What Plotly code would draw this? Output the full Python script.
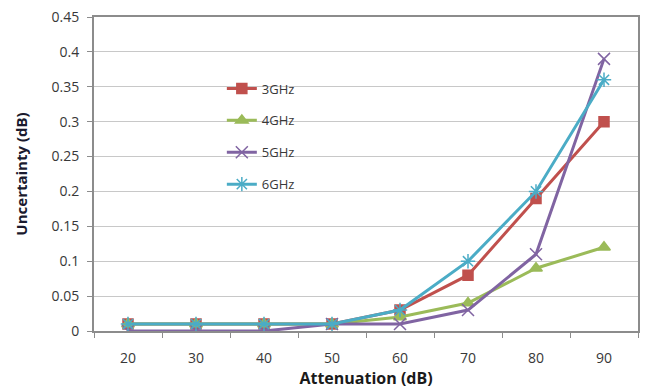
import plotly.graph_objects as go

attenuation = [20, 30, 40, 50, 60, 70, 80, 90]
ghz3 = [0.01, 0.01, 0.01, 0.01, 0.03, 0.08, 0.19, 0.30]
ghz4 = [0.01, 0.01, 0.01, 0.01, 0.02, 0.04, 0.09, 0.12]
ghz5 = [0.0, 0.0, 0.0, 0.01, 0.01, 0.03, 0.11, 0.39]
ghz6 = [0.01, 0.01, 0.01, 0.01, 0.03, 0.10, 0.20, 0.36]

series = [
    ("3GHz", ghz3, "#C0504D", "square", 10),
    ("4GHz", ghz4, "#9BBB59", "triangle-up", 11),
    ("5GHz", ghz5, "#8064A2", "x-thin-open", 12),
    ("6GHz", ghz6, "#4BACC6", "asterisk-open", 12),
]

fig = go.Figure()
for name, vals, color, sym, size in series:
    fig.add_trace(go.Scatter(
        x=attenuation, y=vals, name=name, mode="lines+markers",
        legendgroup=name,
        line=dict(color=color, width=3),
        marker=dict(symbol=sym, size=size, color=color,
                    line=dict(color=color, width=1.5)),
    ))

fig.update_layout(
    width=649, height=389,
    margin=dict(l=94, r=11, t=17, b=58),
    paper_bgcolor="white", plot_bgcolor="white",
    font=dict(family="Open Sans", size=14, color="#383838"),
    showlegend=True,
    legend=dict(x=0.235, y=0.82, xanchor="left", yanchor="top",
                bgcolor="rgba(0,0,0,0)", font=dict(size=13, color="#383838"),
                tracegroupgap=12),
    xaxis=dict(
        automargin=False,
        range=[15, 95], tickvals=attenuation, ticktext=[str(a) for a in attenuation],
        ticks="", showgrid=False, zeroline=False, ticklabelstandoff=13,
        showline=True, linecolor="#8c8c8c", linewidth=2, mirror=True,
        minor=dict(tickvals=[15, 25, 35, 45, 55, 65, 75, 85, 95], ticks="outside",
                   ticklen=5, tickcolor="#8c8c8c", showgrid=False),
        title=dict(text="<b>Attenuation (dB)</b>", font=dict(size=16, color="#1a1a1a"), standoff=6),
    ),
    yaxis=dict(
        automargin=False,
        range=[0, 0.45], dtick=0.05, tickformat="~g",
        ticks="outside", ticklen=5, tickcolor="#8c8c8c", ticklabelstandoff=5,
        showgrid=True, gridcolor="#c8c8c8", gridwidth=1, zeroline=False,
        showline=True, linecolor="#8c8c8c", linewidth=2, mirror=True,
        title=dict(text="<b>Uncertainty (dB)</b>", font=dict(size=15, color="#1a1a2e"), standoff=20),
    ),
)

fig.write_html("out.html", config={"displayModeBar": False},
               post_script="document.body.style.margin='0';document.body.style.overflow='hidden';")
